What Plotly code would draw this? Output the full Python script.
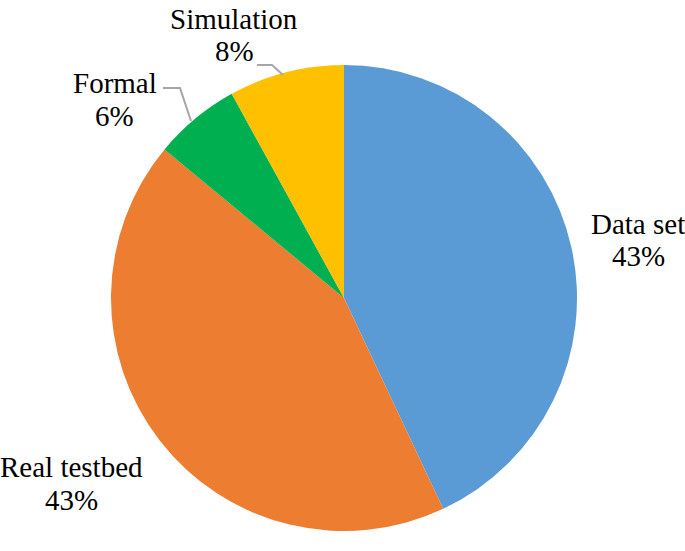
import plotly.graph_objects as go

categories = ["Data set", "Real testbed", "Formal", "Simulation"]
values = [43, 43, 6, 8]
colors = ["#5B9BD5", "#ED7D31", "#00B050", "#FFC000"]

W, H = 685, 551
# pie geometry (pixels)
cx, cy, r = 344, 298, 233

# label line centres in pixels (layout only): (x, name_y, pct_y)
label_pos = {
    "Data set": (638, 222, 254),
    "Real testbed": (71, 465, 498),
    "Formal": (115, 81, 114),
    "Simulation": (234, 17, 49),
}
# leader lines in pixels (layout only)
leaders = {
    "Formal": [(163, 88), (180, 88), (191, 121)],
    "Simulation": [(257, 65), (272, 65), (283, 75)],
}

def px(x):
    return x / W

def py(y):
    return 1 - y / H

total = sum(values)
fig = go.Figure(go.Pie(
    labels=categories,
    values=values,
    marker=dict(colors=colors, line=dict(width=0)),
    sort=False,
    direction="clockwise",
    rotation=0,
    textinfo="none",
    hoverinfo="label+percent",
    showlegend=False,
    domain=dict(x=[px(cx - r), px(cx + r)], y=[py(cy + r), py(cy - r)]),
))

annotations = []
for cat, v in zip(categories, values):
    x, y1, y2 = label_pos[cat]
    for txt, yy in ((cat, y1), (f"{round(100 * v / total)}%", y2)):
        annotations.append(dict(
            x=px(x), y=py(yy + 2), xref="paper", yref="paper",
            text=txt, showarrow=False, xanchor="center", yanchor="middle",
            font=dict(family="Liberation Serif", size=29, color="black"),
        ))

shapes = []
for cat, pts in leaders.items():
    path = "M " + " L ".join(f"{px(a)},{py(b)}" for a, b in pts)
    shapes.append(dict(type="path", path=path, xref="paper", yref="paper",
                       line=dict(color="#A6A6A6", width=2)))

fig.update_layout(
    width=W, height=H,
    margin=dict(l=0, r=0, t=0, b=0),
    font=dict(family="Liberation Serif", size=29, color="black"),
    paper_bgcolor="white", plot_bgcolor="white",
    annotations=annotations, shapes=shapes,
)

fig.write_html("out.html", config={"displayModeBar": False},
               post_script="document.body.style.margin='0';document.body.style.overflow='hidden';")
